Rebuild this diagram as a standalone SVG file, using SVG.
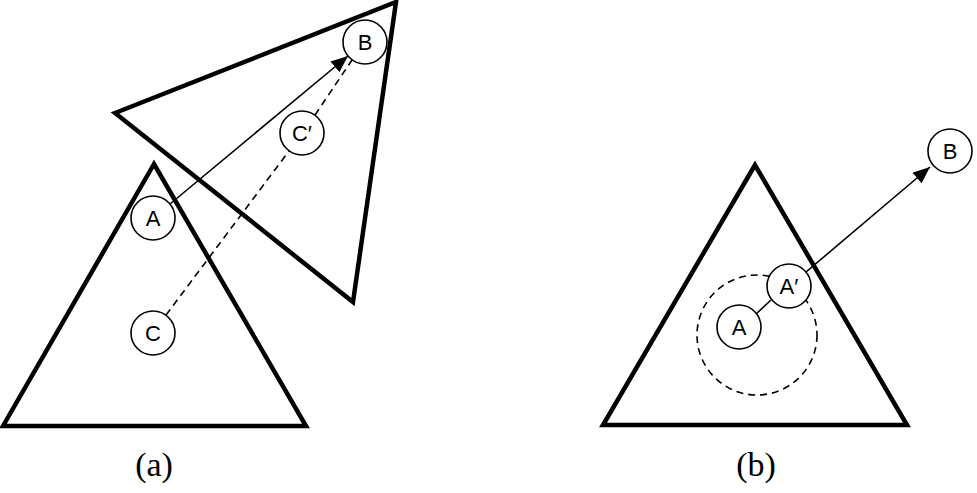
<svg xmlns="http://www.w3.org/2000/svg" width="977" height="493" viewBox="0 0 977 493">
<style>
.tri{fill:none;stroke:#000;stroke-width:4.5;stroke-linejoin:miter}
.node circle{fill:#fff;stroke:#000;stroke-width:1.6}
.node text{font-family:"Liberation Sans",Arial,sans-serif;font-size:22px;text-anchor:middle;dominant-baseline:central;fill:#000}
.edge{stroke:#000;stroke-width:1.6;fill:none}
.dash{stroke-dasharray:7 5}
.cap{font-family:"Liberation Serif","Times New Roman",serif;font-size:34px;text-anchor:middle;fill:#000}
</style>
<defs>
<marker id="arr" markerUnits="userSpaceOnUse" markerWidth="18" markerHeight="14" refX="17" refY="7" orient="auto">
<path d="M0,0 L17,7 L0,14 z" fill="#000"/>
</marker>
</defs>
<rect width="977" height="493" fill="#fff"/>
<g id="shapes">
<polygon id="tri-a1" class="tri" points="154,164 3,426 306,426"/>
<polygon id="tri-a2" class="tri" points="115,113 396,2 353,302"/>
<polygon id="tri-b" class="tri" points="755,165 603,425 907,425"/>
<circle id="range-b" cx="757" cy="335" r="60" fill="none" stroke="#000" stroke-width="1.6" stroke-dasharray="7 5"/>
</g>
<g id="connectors">
<line class="edge" x1="170" y1="204" x2="348" y2="56" marker-end="url(#arr)"/>
<line class="edge dash" x1="166" y1="315" x2="289" y2="151"/>
<line class="edge dash" x1="315" y1="115" x2="352" y2="60"/>
<line class="edge" x1="756" y1="314" x2="771" y2="300"/>
<line class="edge" x1="806" y1="272" x2="930" y2="167" marker-end="url(#arr)"/>
</g>
<g id="node-a-A" class="node"><circle cx="153" cy="218" r="22"/><text x="153" y="218">A</text></g>
<g id="node-a-C" class="node"><circle cx="153" cy="333" r="22"/><text x="153" y="333">C</text></g>
<g id="node-a-Cp" class="node"><circle cx="302" cy="133" r="22"/><text x="302" y="133">C′</text></g>
<g id="node-a-B" class="node"><circle cx="365" cy="42" r="22"/><text x="365" y="42">B</text></g>
<g id="node-b-A" class="node"><circle cx="739" cy="327" r="22"/><text x="739" y="327">A</text></g>
<g id="node-b-Ap" class="node"><circle cx="789" cy="286" r="22"/><text x="789" y="286">A′</text></g>
<g id="node-b-B" class="node"><circle cx="950" cy="151" r="22"/><text x="950" y="151">B</text></g>
<text class="cap" x="154" y="476">(a)</text>
<text class="cap" x="756" y="476">(b)</text>
</svg>
